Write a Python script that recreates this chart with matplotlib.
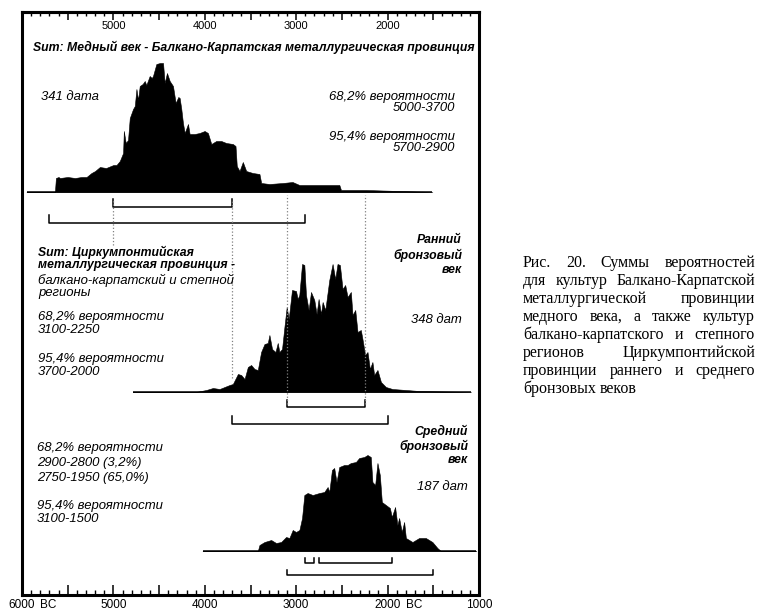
import numpy as np
import matplotlib.pyplot as plt
from matplotlib.ticker import MultipleLocator, FuncFormatter

plt.rcParams['font.family'] = ['Liberation Sans', 'DejaVu Sans']

# --- data: years BC and relative probability (summed) ---
cu_years = [5950, 5640, 5629, 5600, 5585, 5500, 5420, 5350, 5294, 5240, 5200, 5148, 5080, 5000,
            4966, 4930, 4894, 4886, 4865, 4840, 4821, 4785, 4766, 4748, 4730, 4712, 4680, 4657,
            4640, 4603, 4580, 4567, 4530, 4490, 4457, 4439, 4414, 4384, 4348, 4319, 4290, 4275,
            4257, 4239, 4220, 4184, 4166, 4111, 4057, 4002, 3966, 3929, 3875, 3820, 3765, 3693,
            3664, 3650, 3620, 3584, 3547, 3475, 3402, 3383, 3293, 3147, 3040, 2965, 2783, 2528,
            2510, 2237, 1873, 1510]
cu_prob = [0, 0, 14, 15, 14, 15, 14, 15, 15, 19, 21, 25, 24, 27,
           27, 31, 39, 61, 49, 52, 74, 83, 86, 103, 92, 106, 108, 111,
           107, 116, 114, 116, 128, 129, 129, 109, 119, 111, 106, 89, 95, 94,
           83, 69, 59, 68, 58, 58, 59, 61, 59, 48, 51, 51, 49, 48,
           46, 26, 21, 30, 21, 19, 18, 9, 8, 9, 10, 7, 7, 7,
           2, 2, 1, 0]

eba_years = [4788, 4100, 3984, 3911, 3838, 3729, 3693, 3638, 3602, 3565, 3529, 3493, 3456, 3420,
             3384, 3347, 3311, 3293, 3264, 3227, 3202, 3184, 3155, 3129, 3104, 3082, 3046, 3002,
             2984, 2966, 2936, 2911, 2893, 2864, 2838, 2802, 2777, 2755, 2729, 2711, 2682, 2638,
             2602, 2573, 2548, 2522, 2493, 2464, 2438, 2402, 2384, 2354, 2329, 2293, 2275, 2246,
             2220, 2194, 2166, 2147, 2111, 2073, 2019, 1947, 1800, 1655, 1087]
eba_prob = [0, 0, 2, 4, 3, 7, 8, 18, 17, 13, 25, 27, 23, 22,
            40, 48, 49, 57, 43, 40, 49, 40, 43, 65, 85, 73, 102, 101,
            93, 97, 128, 127, 97, 82, 100, 92, 78, 93, 78, 90, 82, 112,
            128, 113, 128, 127, 103, 107, 95, 100, 77, 82, 60, 62, 53, 37,
            40, 23, 30, 17, 22, 10, 5, 3, 2, 1, 0]

mba_years = [4024, 3420, 3402, 3347, 3274, 3220, 3165, 3111, 3075, 3038, 3002, 2965, 2936, 2911,
             2875, 2820, 2747, 2693, 2656, 2638, 2609, 2584, 2559, 2529, 2475, 2438, 2402, 2347,
             2311, 2256, 2220, 2184, 2166, 2136, 2111, 2085, 2063, 2019, 1975, 1954, 1918, 1893,
             1874, 1845, 1819, 1800, 1728, 1655, 1582, 1510, 1455, 1418, 1033]
mba_prob = [0, 0, 6, 9, 11, 8, 9, 14, 13, 21, 19, 21, 33, 56,
            58, 56, 58, 59, 64, 59, 81, 83, 69, 84, 86, 86, 88, 89,
            93, 94, 96, 94, 69, 66, 88, 76, 49, 46, 43, 34, 44, 26,
            33, 19, 29, 13, 9, 13, 13, 9, 3, 0, 0]

cu_68 = [(5000, 3700)]
cu_95 = [(5700, 2900)]
eba_68 = [(3100, 2250)]
eba_95 = [(3700, 2000)]
mba_68 = [(2900, 2800), (2750, 1950)]
mba_95 = [(3100, 1500)]

bottom_ticks = [6000, 5000, 4000, 3000, 2000, 1000]
top_labels = [5000, 4000, 3000, 2000]

W, H = 761, 616
fig = plt.figure(figsize=(W / 100, H / 100), dpi=100)
R = fig.canvas.get_renderer()

# frame axes: y measured in pixels up from the bottom edge (row 595)
ax = fig.add_axes([22 / W, 1 - 595 / H, 457 / W, 583 / H])
ax.set_xlim(6000, 1000)
ax.set_ylim(0, 583)
ax.set_yticks([])
for s in ax.spines.values():
    s.set_linewidth(2.2)

ax.xaxis.set_major_locator(MultipleLocator(500))
ax.xaxis.set_minor_locator(MultipleLocator(100))
ax.xaxis.set_major_formatter(FuncFormatter(lambda v, p: '%d' % v if v in bottom_ticks else ''))
ax.tick_params(axis='x', which='major', direction='in', length=7, width=1.1, labelsize=8.5, pad=3)
ax.tick_params(axis='x', which='minor', direction='in', length=3.5, width=1.0)
for x0 in (6000, 2000):
    ax.annotate('BC', xy=(x0, 0), xycoords=('data', 'axes fraction'), xytext=(13, -3),
                textcoords='offset points', ha='left', va='top', fontsize=8.5)

sec = ax.secondary_xaxis('top')
sec.xaxis.set_major_locator(MultipleLocator(500))
sec.xaxis.set_minor_locator(MultipleLocator(100))
sec.xaxis.set_major_formatter(FuncFormatter(lambda v, p: '%d' % v if v in top_labels else ''))
sec.tick_params(axis='x', which='major', direction='in', length=6, width=1.1, labelsize=8, pad=-14)
sec.tick_params(axis='x', which='minor', direction='in', length=3, width=1.0)
sec.spines['top'].set_linewidth(2.2)


def row(r):
    return 595 - r


def dist(years, prob, base_row):
    b = row(base_row)
    y = np.array(prob, dtype=float)
    ax.fill_between(years, b, b + y, color='black', lw=0.4, edgecolor='black')
    ax.hlines(b, min(years), max(years), color='black', lw=1.1)


def bracket(ranges, r, tick):
    for a, c in ranges:
        ax.plot([a, a, c, c], [row(r) + tick, row(r), row(r), row(r) + tick], color='black', lw=1.1)


dist(cu_years, cu_prob, 192)
dist(eba_years, eba_prob, 392)
dist(mba_years, mba_prob, 551)

bracket(cu_68, 207, 8)
bracket(cu_95, 223, 8)
bracket(eba_68, 407, 7)
bracket(eba_95, 424, 8)
bracket(mba_68, 563, 5)
bracket(mba_95, 575, 5)

dots = dict(colors='0.5', linestyles=':', lw=0.9)
ax.vlines(cu_68[0][0], row(245), row(200), **dots)
ax.vlines(cu_68[0][1], row(378), row(200), **dots)
ax.vlines(eba_68[0][0], row(404), row(195), **dots)
ax.vlines(eba_68[0][1], row(404), row(195), **dots)


def txt(x, y, s, ha='left', weight='normal', size=8.5):
    return fig.text(x / W, 1 - y / H, s, ha=ha, va='center', style='italic',
                    weight=weight, fontsize=size)


def fit(t, width):
    w = t.get_window_extent(R).width
    t.set_fontsize(t.get_fontsize() * width / w)
    return t.get_fontsize()


title = txt(33, 47, 'Sum: Медный век - Балкано-Карпатская металлургическая провинция', weight='bold')
bs = fit(title, 439)
t = txt(455, 97, '68,2% вероятности', ha='right')
fs = fit(t, 126)

txt(41, 97, '341 дата', size=fs)
txt(455, 108, '5000-3700', ha='right', size=fs)
txt(455, 137, '95,4% вероятности', ha='right', size=fs)
txt(455, 148, '5700-2900', ha='right', size=fs)

txt(38, 252, 'Sum: Циркумпонтийская', weight='bold', size=bs)
txt(38, 265, 'металлургическая провинция -', weight='bold', size=bs)
txt(38, 280, 'балкано-карпатский и степной', size=fs)
txt(38, 293, 'регионы', size=fs)
txt(38, 317, '68,2% вероятности', size=fs)
txt(38, 330, '3100-2250', size=fs)
txt(38, 359, '95,4% вероятности', size=fs)
txt(38, 372, '3700-2000', size=fs)
txt(462, 240, 'Ранний', ha='right', weight='bold', size=bs)
txt(462, 255, 'бронзовый', ha='right', weight='bold', size=bs)
txt(462, 270, 'век', ha='right', weight='bold', size=bs)
txt(462, 320, '348 дат', ha='right', size=fs)

txt(37, 448, '68,2% вероятности', size=fs)
txt(37, 463, '2900-2800 (3,2%)', size=fs)
txt(37, 478, '2750-1950 (65,0%)', size=fs)
txt(37, 506, '95,4% вероятности', size=fs)
txt(37, 519, '3100-1500', size=fs)
txt(468, 431, 'Средний', ha='right', weight='bold', size=bs)
txt(468, 446, 'бронзовый', ha='right', weight='bold', size=bs)
txt(468, 460, 'век', ha='right', weight='bold', size=bs)
txt(468, 487, '187 дат', ha='right', size=fs)

# caption, justified
caption = ['Рис. 20. Суммы вероятностей',
           'для культур Балкано-Карпатской',
           'металлургической провинции',
           'медного века, а также культур',
           'балкано-карпатского и степного',
           'регионов Циркумпонтийской',
           'провинции раннего и среднего',
           'бронзовых веков']
cap_font = dict(family=['Liberation Serif', 'DejaVu Serif'], va='baseline')
probe = fig.text(0, 0, caption[-1], fontsize=10, **cap_font)
cs = fit(probe, 114)
probe.remove()
x0, x1 = 523, 755
for i, line in enumerate(caption):
    yb = 1 - (267 + 18 * i) / H
    words = line.split()
    items = [fig.text(0, yb, w, fontsize=cs, **cap_font) for w in words]
    widths = [it.get_window_extent(R).width for it in items]
    if i == len(caption) - 1:
        g = 4
    else:
        g = (x1 - x0 - sum(widths)) / (len(words) - 1)
    x = x0
    for it, w in zip(items, widths):
        it.set_x(x / W)
        x += w + g

fig.savefig('out.png', dpi=100)
